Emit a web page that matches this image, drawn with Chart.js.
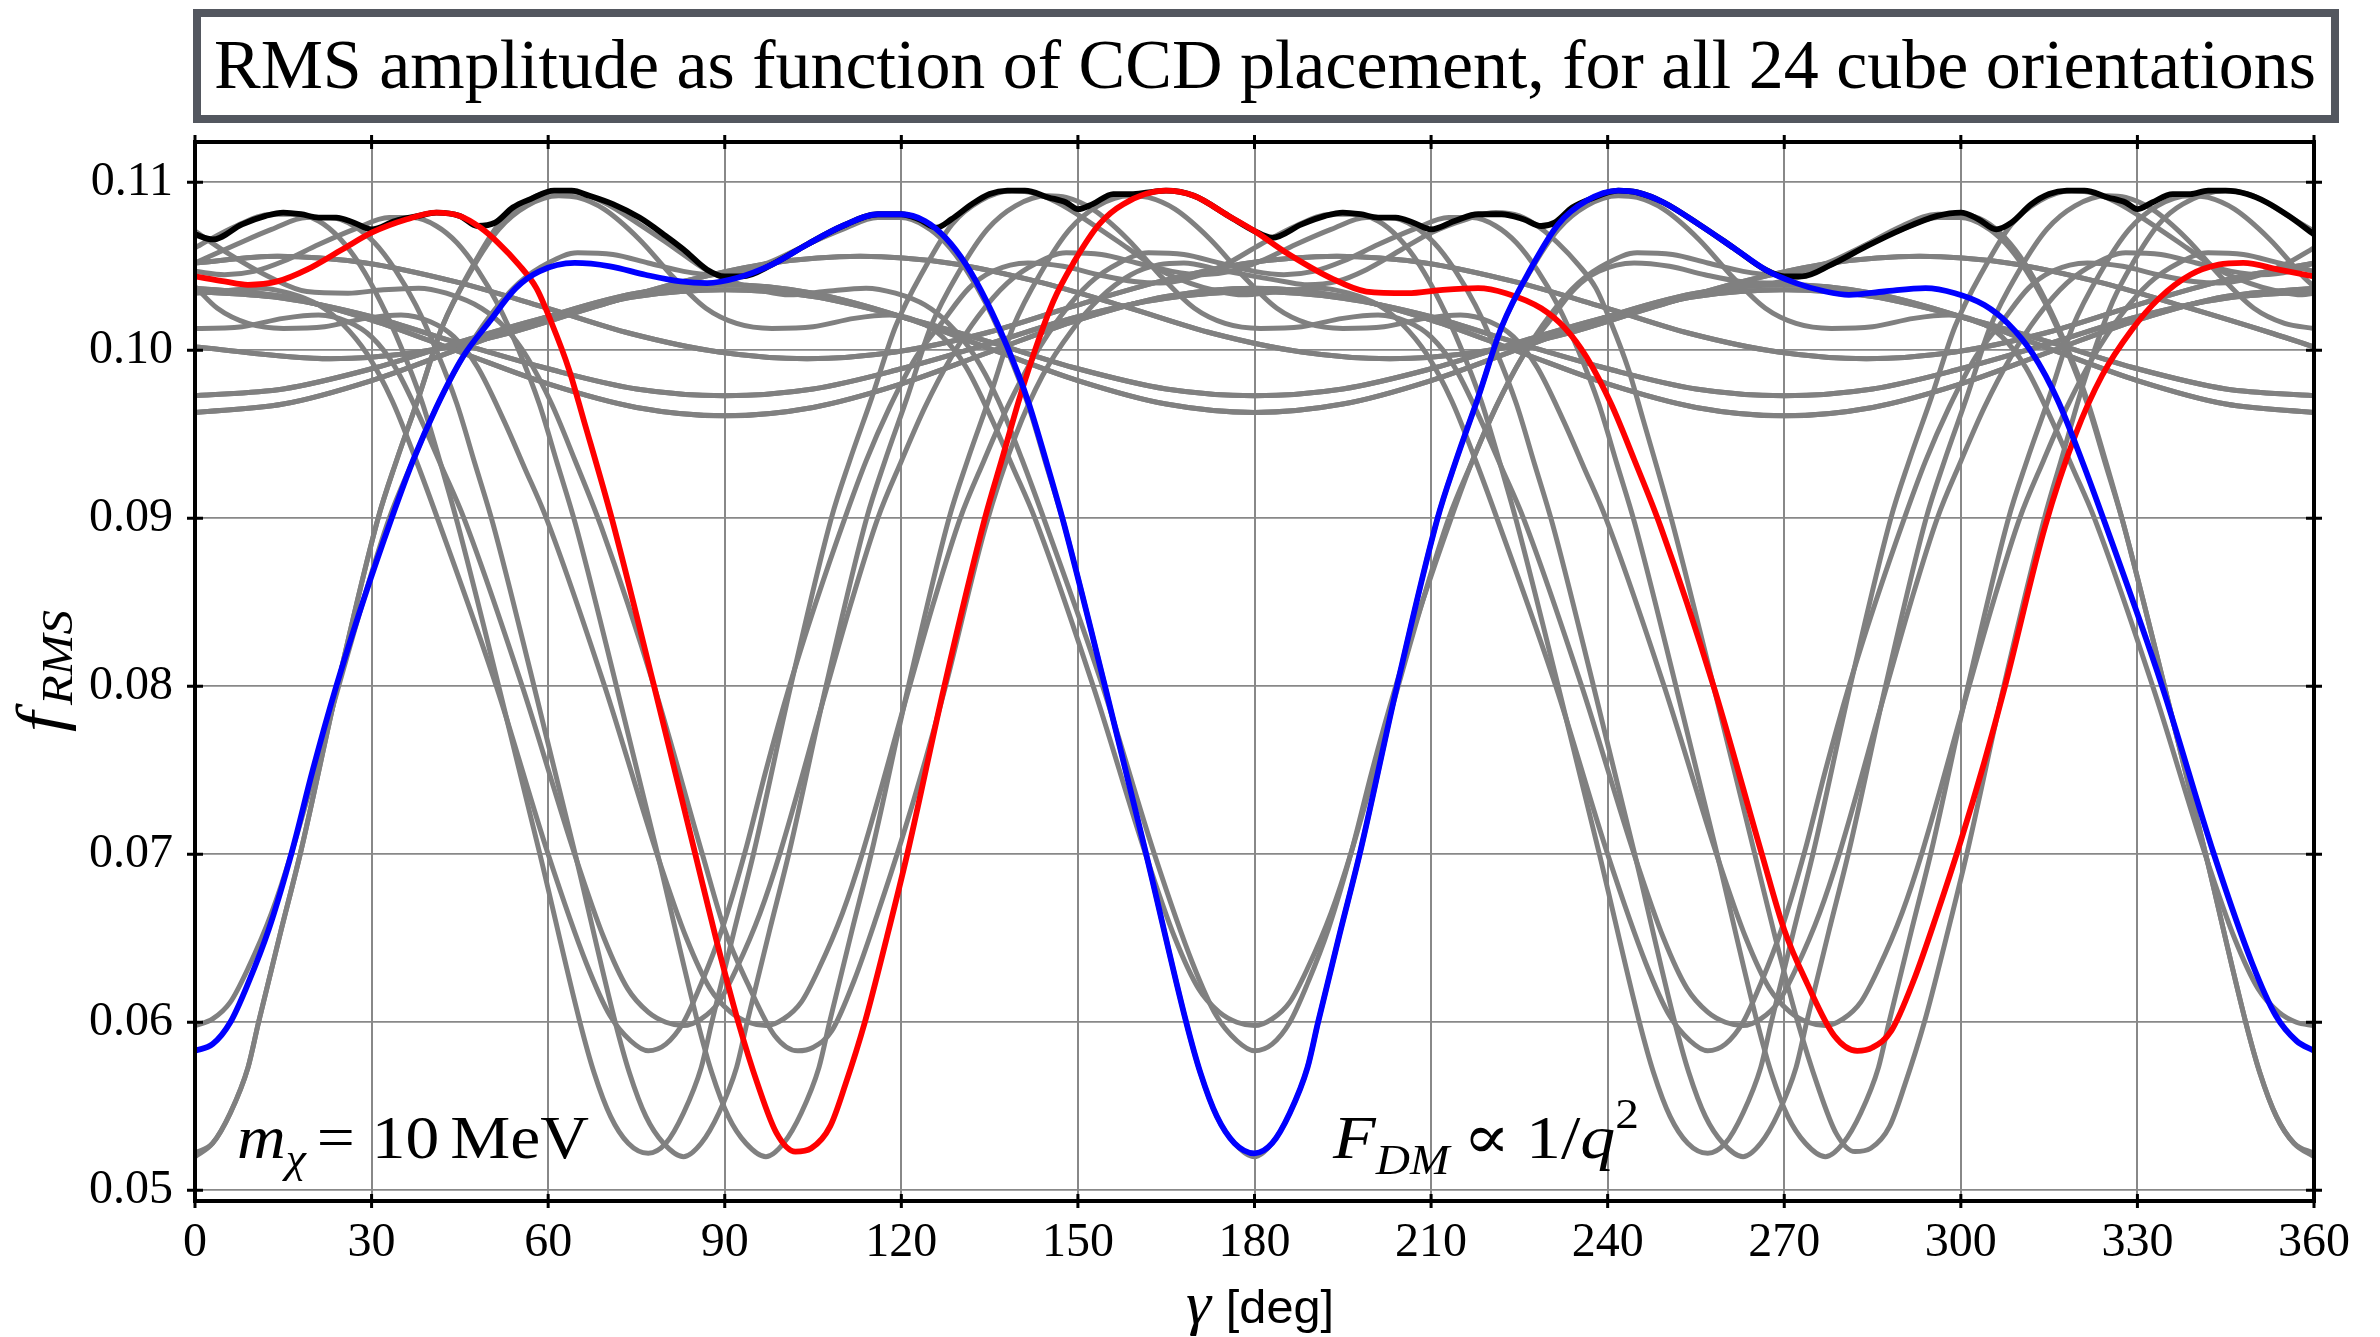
<!DOCTYPE html>
<html>
<head>
<meta charset="utf-8">
<script src="https://cdn.jsdelivr.net/npm/chart.js@4.4.1/dist/chart.umd.min.js"></script>
<style>
html, body { margin: 0; padding: 0; background: #fff; }
#myChart { display: block; }
</style>
</head>
<body>
<canvas id="myChart" width="2380" height="1337" style="width:2380px;height:1337px"></canvas>
<script>
// axis ticks
var gammaTicks = [0, 30, 60, 90, 120, 150, 180, 210, 240, 270, 300, 330, 360];
var fTicks = [0.05, 0.06, 0.07, 0.08, 0.09, 0.10, 0.11];
var yMin = 0.04936, yMax = 0.1124;

var titleText = "RMS amplitude as function of CCD placement, for all 24 cube orientations";

// [gamma (deg), f_RMS]
var curveBlue = [[0,.0583],[3,.0587],[6,.0600],[9,.0623],[12.5,.0655],[16.5,.0702],[20,.0750],[24,.0800],[28.5,.0850],[33.4,.0900],[37,.0934],[41,.0966],[45.5,.0996],[50,.1017],[54.5,.1037],[58.5,.1047],[64.5,.1052],[70.5,.1050],[76.5,.1045],[82.5,.1041],[87,.1040],[92,.1043],[98,.1051],[104,.1063],[110,.1074],[116,.1081],[120,.1081],[124,.1077],[127.5,.1067],[131,.1051],[134.5,.1029],[138,.1002],[141.5,.0970],[144.6,.0934],[147.6,.0897],[154.6,.0800],[161.6,.0700],[168.4,.0600],[170.8,.0570],[173.6,.0544],[176.6,.0528],[180,.0522],[183,.0528],[186,.0546],[189,.0573],[190.8,.0600],[194.5,.0653],[198,.0702],[204.2,.0800],[211.1,.0900],[214.2,.0934],[218,.0972],[222,.1014],[227,.1049],[231.6,.1075],[236.4,.1089],[241.8,.1095],[245,.1094],[249.5,.1088],[255.5,.1075],[261.4,.1061],[266.8,.1048],[272,.1040],[277,.1035],[281,.1033],[287,.1035],[294,.1037],[299,.1034],[304,.1027],[308,.1016],[312.2,.0998],[316.5,.0970],[320.5,.0935],[324.5,.0897],[334.2,.0800],[343,.0700],[349.5,.0635],[353.5,.0604],[357,.0589],[360,.0583]];

var curveRed = [[0,.1044],[5,.1041],[9,.1039],[14,.1041],[19,.1048],[25,.1060],[30,.1070],[36,.1078],[41,.1082],[45,.1080],[48.5,.1073],[51.5,.1064],[55,.1051],[58,.1037],[60.5,.1017],[63.5,.0989],[66,.0959],[70.8,.0900],[78,.0800],[85,.0700],[88.5,.0650],[92.3,.0600],[95.6,.0563],[98.8,.0534],[102,.0523],[104.7,.0525],[107.9,.0538],[110.5,.0563],[113.8,.0600],[117.5,.0650],[121,.0700],[127.3,.0800],[134.2,.0900],[137,.0934],[141,.0982],[145.8,.1029],[149.4,.1053],[153.6,.1075],[157.7,.1087],[164.9,.1095],[169.7,.1092],[175.6,.1080],[180,.1071],[185,.1059],[193,.1043],[199,.1035],[206,.1034],[212,.1036],[218,.1037],[222.7,.1034],[228.7,.1025],[232.8,.1013],[236.4,.0996],[240.6,.0968],[244.5,.0935],[249,.0895],[258,.0800],[266.2,.0700],[270,.0655],[273.9,.0623],[278.5,.0592],[282.4,.0583],[285,.0585],[288.2,.0595],[292,.0625],[296,.0665],[300,.0708],[304,.0755],[307.5,.0800],[314.3,.0895],[319.5,.0950],[324,.0985],[329,.1012],[333.7,.1031],[339,.1045],[343.8,.1051],[348,.1052],[354,.1048],[360,.1044]];

var curveBlack = [[0,.1069],[3,.1066],[8,.1075],[12,.1080],[15,.1082],[18,.1081],[21,.1079],[24,.1079],[27,.1076],[30,.1072],[34,.1077],[38,.1080],[41,.1082],[45,.1080],[48,.1074],[51,.1076],[54,.1085],[57,.1090],[61,.1095],[64,.1095],[67,.1092],[71,.1087],[75.5,.1079],[80,.1068],[83,.1060],[87,.1048],[90,.1044],[93,.1044],[98,.1051],[104,.1063],[110,.1074],[116,.1081],[120,.1081],[123,.1078],[126,.1073],[128.5,.1078],[132,.1087],[135,.1093],[138,.1095],[141,.1095],[145,.1091],[148,.1088],[150,.1084],[152.5,.1087],[156,.1093],[159,.1093],[162,.1094],[165,.1095],[169.7,.1092],[175.6,.1080],[180,.1071],[183,.1067],[188,.1075],[192,.1080],[195,.1082],[198,.1081],[201,.1079],[204,.1079],[207,.1076],[210,.1072],[214,.1077],[218,.1081],[222,.1081],[225.7,.1078],[228.7,.1074],[231,.1076],[234,.1085],[237,.1090],[241.8,.1095],[245,.1094],[249.5,.1088],[255.5,.1075],[261.4,.1061],[266.8,.1048],[270,.1044],[273,.1044],[278,.1051],[284,.1062],[290,.1072],[296,.1080],[300,.1082],[303,.1078],[306,.1072],[308.6,.1076],[312,.1087],[315,.1093],[318,.1095],[321,.1095],[325,.1091],[328,.1088],[330,.1084],[332.5,.1088],[336,.1093],[339,.1093],[342,.1095],[345,.1095],[348.6,.1093],[352,.1088],[355.7,.1080],[360,.1069]];

// deep grey curves
var grayG1 = [[0,.0522],[3,.0528],[6,.0546],[9,.0573],[10.8,.0600],[14.5,.0653],[18,.0702],[24.2,.0800],[31.1,.0900],[34.2,.0934],[38,.0972],[42,.1014],[47,.1049],[51.6,.1075],[56.4,.1089],[61.8,.1095],[65,.1094],[69.5,.1088],[75.5,.1075],[81.4,.1061],[86.8,.1048],[92,.1040],[97,.1035],[101,.1033],[107,.1035],[114,.1037],[119,.1034],[124,.1027],[128,.1016],[132.2,.0998],[136.5,.0970],[140.5,.0935],[144.5,.0897],[154.2,.0800],[163,.0700],[169.5,.0635],[173.5,.0604],[177,.0589],[180,.0583],[183,.0587],[186,.0600],[189,.0623],[192.5,.0655],[196.5,.0702],[200,.0750],[204,.0800],[208.5,.0850],[213.4,.0900],[217,.0934],[221,.0966],[225.5,.0996],[230,.1017],[234.5,.1037],[238.5,.1047],[244.5,.1052],[250.5,.1050],[256.5,.1045],[262.5,.1041],[267,.1040],[272,.1043],[278,.1051],[284,.1063],[290,.1074],[296,.1081],[300,.1081],[304,.1077],[307.5,.1067],[311,.1051],[314.5,.1029],[318,.1002],[321.5,.0970],[324.6,.0934],[327.6,.0897],[334.6,.0800],[341.6,.0700],[348.4,.0600],[350.8,.0570],[353.6,.0544],[356.6,.0528],[360,.0522]];

var grayA = [[0,.1061],[1,.1063],[7,.1074],[13,.1081],[17,.1081],[21,.1077],[24.5,.1067],[28,.1051],[31.5,.1029],[35,.1002],[38.5,.0970],[41.6,.0934],[44.6,.0897],[51.6,.0800],[58.6,.0700],[65.4,.0600],[67.8,.0570],[70.6,.0544],[73.6,.0528],[77,.0522],[80,.0528],[83,.0546],[86,.0573],[87.8,.0600],[91.5,.0653],[95,.0702],[101.2,.0800],[108.1,.0900],[111.2,.0934],[115,.0972],[119,.1014],[124,.1049],[128.6,.1075],[133.4,.1089],[138.8,.1095],[142,.1094],[146.5,.1088],[152.5,.1075],[158.4,.1061],[163.8,.1048],[169,.1040],[174,.1035],[178,.1033],[184,.1035],[191,.1037],[196,.1034],[201,.1027],[205,.1016],[209.2,.0998],[213.5,.0970],[217.5,.0935],[221.5,.0897],[231.2,.0800],[240,.0700],[246.5,.0635],[250.5,.0604],[254,.0589],[257,.0583],[260,.0587],[263,.0600],[266,.0623],[269.5,.0655],[273.5,.0702],[277,.0750],[281,.0800],[285.5,.0850],[290.4,.0900],[294,.0934],[298,.0966],[302.5,.0996],[307,.1017],[311.5,.1037],[315.5,.1047],[321.5,.1052],[327.5,.1050],[333.5,.1045],[339.5,.1041],[344,.1040],[349,.1043],[355,.1051],[360,.1061]];

var grayA2 = [[0,.1034],[4,.1035],[11,.1037],[16,.1034],[21,.1027],[25,.1016],[29.2,.0998],[33.5,.0970],[37.5,.0935],[41.5,.0897],[51.2,.0800],[60,.0700],[66.5,.0635],[70.5,.0604],[74,.0589],[77,.0583],[80,.0587],[83,.0600],[86,.0623],[89.5,.0655],[93.5,.0702],[97,.0750],[101,.0800],[105.5,.0850],[110.4,.0900],[114,.0934],[118,.0966],[122.5,.0996],[127,.1017],[131.5,.1037],[135.5,.1047],[141.5,.1052],[147.5,.1050],[153.5,.1045],[159.5,.1041],[164,.1040],[169,.1043],[175,.1051],[181,.1063],[187,.1074],[193,.1081],[197,.1081],[201,.1077],[204.5,.1067],[208,.1051],[211.5,.1029],[215,.1002],[218.5,.0970],[221.6,.0934],[224.6,.0897],[231.6,.0800],[238.6,.0700],[245.4,.0600],[247.8,.0570],[250.6,.0544],[253.6,.0528],[257,.0522],[260,.0528],[263,.0546],[266,.0573],[267.8,.0600],[271.5,.0653],[275,.0702],[281.2,.0800],[288.1,.0900],[291.2,.0934],[295,.0972],[299,.1014],[304,.1049],[308.6,.1075],[313.4,.1089],[318.8,.1095],[322,.1094],[326.5,.1088],[332.5,.1075],[338.4,.1061],[343.8,.1048],[349,.1040],[354,.1035],[358,.1033],[360,.1034]];

var grayRed2 = [[0,.1071],[5,.1059],[13,.1043],[19,.1035],[26,.1034],[32,.1036],[38,.1037],[42.7,.1034],[48.7,.1025],[52.8,.1013],[56.4,.0996],[60.6,.0968],[64.5,.0935],[69,.0895],[78,.0800],[86.2,.0700],[90,.0655],[93.9,.0623],[98.5,.0592],[102.4,.0583],[105,.0585],[108.2,.0595],[112,.0625],[116,.0665],[120,.0708],[124,.0755],[127.5,.0800],[134.3,.0895],[139.5,.0950],[144,.0985],[149,.1012],[153.7,.1031],[159,.1045],[163.8,.1051],[168,.1052],[174,.1048],[180,.1044],[185,.1041],[189,.1039],[194,.1041],[199,.1048],[205,.1060],[210,.1070],[216,.1078],[221,.1082],[225,.1080],[228.5,.1073],[231.5,.1064],[235,.1051],[238,.1037],[240.5,.1017],[243.5,.0989],[246,.0959],[250.8,.0900],[258,.0800],[265,.0700],[268.5,.0650],[272.3,.0600],[275.6,.0563],[278.8,.0534],[282,.0523],[284.7,.0525],[287.9,.0538],[290.5,.0563],[293.8,.0600],[297.5,.0650],[301,.0700],[307.3,.0800],[314.2,.0900],[317,.0934],[321,.0982],[325.8,.1029],[329.4,.1053],[333.6,.1075],[337.7,.1087],[344.9,.1095],[349.7,.1092],[355.6,.1080],[360,.1071]];

var grayG3 = [[0,.0598],[3,.0602],[6,.0612],[9,.0632],[13,.0665],[16.5,.0702],[24,.0795],[28.5,.0850],[33,.0900],[37,.0934],[41,.0966],[45.5,.0996],[50,.1020],[55,.1040],[60,.1052],[65,.1058],[71,.1057],[77,.1052],[83,.1047],[88,.1045],[93,.1047],[98,.1053],[104,.1063],[110,.1072],[116,.1079],[120,.1079],[124,.1074],[127.5,.1064],[131,.1048],[134.5,.1027],[138,.1000],[141.5,.0968],[144.6,.0932],[147.6,.0897],[154.6,.0800],[161.6,.0700],[168.4,.0600],[170.8,.0570],[173.6,.0544],[176.6,.0528],[180,.0520],[183,.0528],[186,.0546],[189,.0573],[190.8,.0600],[194.5,.0653],[198,.0702],[204.2,.0800],[211.1,.0900],[214.2,.0934],[218,.0972],[222,.1014],[227,.1048],[231.6,.1072],[236.4,.1086],[241.8,.1092],[245,.1091],[249.5,.1084],[255.5,.1066],[261.4,.1043],[266.8,.1025],[272,.1016],[278,.1013],[285,.1014],[292,.1019],[298,.1021],[303,.1017],[307,.1008],[311,.0990],[315.5,.0958],[319,.0930],[322.7,.0900],[332.6,.0800],[341.5,.0700],[346.5,.0650],[350.5,.0620],[354,.0606],[357,.0600],[360,.0598]];

var grayG2 = [[0,.0520],[3,.0528],[6,.0546],[9,.0573],[10.8,.0600],[14.5,.0653],[18,.0702],[24.2,.0800],[31.1,.0900],[34.2,.0934],[38,.0972],[42,.1014],[47,.1048],[51.6,.1072],[56.4,.1086],[61.8,.1092],[65,.1091],[69.5,.1084],[75.5,.1066],[81.4,.1043],[86.8,.1025],[92,.1016],[98,.1013],[105,.1014],[112,.1019],[118,.1021],[123,.1017],[127,.1008],[131,.0990],[135.5,.0958],[139,.0930],[142.7,.0900],[152.6,.0800],[161.5,.0700],[166.5,.0650],[170.5,.0620],[174,.0606],[177,.0600],[180,.0598],[183,.0602],[186,.0612],[189,.0632],[193,.0665],[196.5,.0702],[204,.0795],[208.5,.0850],[213,.0900],[217,.0934],[221,.0966],[225.5,.0996],[230,.1020],[235,.1040],[240,.1052],[245,.1058],[251,.1057],[257,.1052],[263,.1047],[268,.1045],[273,.1047],[278,.1053],[284,.1063],[290,.1072],[296,.1079],[300,.1079],[304,.1074],[307.5,.1064],[311,.1048],[314.5,.1027],[318,.1000],[321.5,.0968],[324.6,.0932],[327.6,.0897],[334.6,.0800],[341.6,.0700],[348.4,.0600],[350.8,.0570],[353.6,.0544],[356.6,.0528],[360,.0520]];

var grayB = [[0,.1052],[7,.1063],[13,.1072],[19,.1079],[23,.1079],[27,.1074],[30.5,.1064],[34,.1048],[37.5,.1027],[41,.1000],[44.5,.0968],[47.6,.0932],[50.6,.0897],[57.6,.0800],[64.6,.0700],[71.4,.0600],[73.8,.0570],[76.6,.0544],[79.6,.0528],[83,.0520],[86,.0528],[89,.0546],[92,.0573],[93.8,.0600],[97.5,.0653],[101,.0702],[107.2,.0800],[114.1,.0900],[117.2,.0934],[121,.0972],[125,.1014],[130,.1048],[134.6,.1072],[139.4,.1086],[144.8,.1092],[148,.1091],[152.5,.1084],[158.5,.1066],[164.4,.1043],[169.8,.1025],[175,.1016],[181,.1013],[188,.1014],[195,.1019],[201,.1021],[206,.1017],[210,.1008],[214,.0990],[218.5,.0958],[222,.0930],[225.7,.0900],[235.6,.0800],[244.5,.0700],[249.5,.0650],[253.5,.0620],[257,.0606],[260,.0600],[263,.0598],[266,.0602],[269,.0612],[272,.0632],[276,.0665],[279.5,.0702],[287,.0795],[291.5,.0850],[296,.0900],[300,.0934],[304,.0966],[308.5,.0996],[313,.1020],[318,.1040],[323,.1052],[328,.1058],[334,.1057],[340,.1052],[346,.1047],[351,.1045],[356,.1047],[360,.1052]];

var grayB2 = [[0,.1013],[1,.1013],[8,.1014],[15,.1019],[21,.1021],[26,.1017],[30,.1008],[34,.0990],[38.5,.0958],[42,.0930],[45.7,.0900],[55.6,.0800],[64.5,.0700],[69.5,.0650],[73.5,.0620],[77,.0606],[80,.0600],[83,.0598],[86,.0602],[89,.0612],[92,.0632],[96,.0665],[99.5,.0702],[107,.0795],[111.5,.0850],[116,.0900],[120,.0934],[124,.0966],[128.5,.0996],[133,.1020],[138,.1040],[143,.1052],[148,.1058],[154,.1057],[160,.1052],[166,.1047],[171,.1045],[176,.1047],[181,.1053],[187,.1063],[193,.1072],[199,.1079],[203,.1079],[207,.1074],[210.5,.1064],[214,.1048],[217.5,.1027],[221,.1000],[224.5,.0968],[227.6,.0932],[230.6,.0897],[237.6,.0800],[244.6,.0700],[251.4,.0600],[253.8,.0570],[256.6,.0544],[259.6,.0528],[263,.0520],[266,.0528],[269,.0546],[272,.0573],[273.8,.0600],[277.5,.0653],[281,.0702],[287.2,.0800],[294.1,.0900],[297.2,.0934],[301,.0972],[305,.1014],[310,.1048],[314.6,.1072],[319.4,.1086],[324.8,.1092],[328,.1091],[332.5,.1084],[338.5,.1066],[344.4,.1043],[349.8,.1025],[355,.1016],[360,.1013]];

var grayC = [[0,.1047],[5,.1045],[10,.1047],[15,.1053],[21,.1063],[27,.1072],[33,.1079],[37,.1079],[41,.1074],[44.5,.1064],[48,.1048],[51.5,.1027],[55,.1000],[58.5,.0968],[61.6,.0932],[64.6,.0897],[71.6,.0800],[78.6,.0700],[85.4,.0600],[87.8,.0570],[90.6,.0544],[93.6,.0528],[97,.0520],[100,.0528],[103,.0546],[106,.0573],[107.8,.0600],[111.5,.0653],[115,.0702],[121.2,.0800],[128.1,.0900],[131.2,.0934],[135,.0972],[139,.1014],[144,.1048],[148.6,.1072],[153.4,.1086],[158.8,.1092],[162,.1091],[166.5,.1084],[172.5,.1066],[178.4,.1043],[183.8,.1025],[189,.1016],[195,.1013],[202,.1014],[209,.1019],[215,.1021],[220,.1017],[224,.1008],[228,.0990],[232.5,.0958],[236,.0930],[239.7,.0900],[249.6,.0800],[258.5,.0700],[263.5,.0650],[267.5,.0620],[271,.0606],[274,.0600],[277,.0598],[280,.0602],[283,.0612],[286,.0632],[290,.0665],[293.5,.0702],[301,.0795],[305.5,.0850],[310,.0900],[314,.0934],[318,.0966],[322.5,.0996],[327,.1020],[332,.1040],[337,.1052],[342,.1058],[348,.1057],[354,.1052],[360,.1047]];

var grayC2 = [[0,.1038],[3.8,.1025],[9,.1016],[15,.1013],[22,.1014],[29,.1019],[35,.1021],[40,.1017],[44,.1008],[48,.0990],[52.5,.0958],[56,.0930],[59.7,.0900],[69.6,.0800],[78.5,.0700],[83.5,.0650],[87.5,.0620],[91,.0606],[94,.0600],[97,.0598],[100,.0602],[103,.0612],[106,.0632],[110,.0665],[113.5,.0702],[121,.0795],[125.5,.0850],[130,.0900],[134,.0934],[138,.0966],[142.5,.0996],[147,.1020],[152,.1040],[157,.1052],[162,.1058],[168,.1057],[174,.1052],[180,.1047],[185,.1045],[190,.1047],[195,.1053],[201,.1063],[207,.1072],[213,.1079],[217,.1079],[221,.1074],[224.5,.1064],[228,.1048],[231.5,.1027],[235,.1000],[238.5,.0968],[241.6,.0932],[244.6,.0897],[251.6,.0800],[258.6,.0700],[265.4,.0600],[267.8,.0570],[270.6,.0544],[273.6,.0528],[277,.0520],[280,.0528],[283,.0546],[286,.0573],[287.8,.0600],[291.5,.0653],[295,.0702],[301.2,.0800],[308.1,.0900],[311.2,.0934],[315,.0972],[319,.1014],[324,.1048],[328.6,.1072],[333.4,.1086],[338.8,.1092],[342,.1091],[346.5,.1084],[352.5,.1066],[358.4,.1043],[360,.1038]];

// shallow grey curves
var graySA = [[0,.1037],[15,.1032],[30,.1018],[45,.0999],[60,.0980],[75,.0966],[90,.0961],[105,.0966],[120,.0980],[135,.0999],[150,.1018],[165,.1032],[180,.1037],[195,.1032],[210,.1018],[225,.0999],[240,.0980],[255,.0966],[270,.0961],[285,.0966],[300,.0980],[315,.0999],[330,.1018],[345,.1032],[360,.1037]];
var graySB = [[0,.1035],[15,.1031],[30,.1020],[45,.1004],[60,.0989],[75,.0977],[90,.0973],[105,.0977],[120,.0989],[135,.1004],[150,.1020],[165,.1031],[180,.1035],[195,.1031],[210,.1020],[225,.1004],[240,.0989],[255,.0977],[270,.0973],[285,.0977],[300,.0989],[315,.1004],[330,.1020],[345,.1031],[360,.1035]];
var graySC = [[0,.0963],[15,.0968],[30,.0982],[45,.1001],[60,.1020],[75,.1034],[90,.1039],[105,.1034],[120,.1020],[135,.1001],[150,.0982],[165,.0968],[180,.0963],[195,.0968],[210,.0982],[225,.1001],[240,.1020],[255,.1034],[270,.1039],[285,.1034],[300,.1020],[315,.1001],[330,.0982],[345,.0968],[360,.0963]];
var graySD = [[0,.0973],[15,.0977],[30,.0989],[45,.1005],[60,.1020],[75,.1032],[90,.1036],[105,.1032],[120,.1020],[135,.1005],[150,.0989],[165,.0977],[180,.0973],[195,.0977],[210,.0989],[225,.1005],[240,.1020],[255,.1032],[270,.1036],[285,.1032],[300,.1020],[315,.1005],[330,.0989],[345,.0977],[360,.0973]];
var graySE = [[0,.1052],[14,.1056],[29,.1052],[44,.1041],[59,.1026],[74,.1010],[89,.0999],[104,.0995],[119,.0999],[134,.1010],[149,.1026],[164,.1041],[179,.1052],[194,.1056],[209,.1052],[224,.1041],[239,.1026],[254,.1010],[269,.0999],[284,.0995],[299,.0999],[314,.1010],[329,.1026],[344,.1041],[360,.1052]];
var graySF = [[0,.1002],[23,.0995],[38,.0999],[53,.1010],[68,.1026],[83,.1041],[98,.1052],[113,.1056],[128,.1052],[143,.1041],[158,.1026],[173,.1010],[188,.0999],[203,.0995],[218,.0999],[233,.1010],[248,.1026],[263,.1041],[278,.1052],[293,.1056],[308,.1052],[323,.1041],[338,.1026],[353,.1010],[360,.1002]];

var grayCurves = [grayG1, grayA, grayA2, grayRed2, grayG3, grayG2, grayB, grayB2, grayC, grayC2,
                  graySA, graySA, graySB, graySB, graySC, graySC, graySD, graySD, graySE, graySE, graySF, graySF];

var serif = "'Liberation Serif', 'DejaVu Serif', serif";

function toXY(pts) {
	return pts.map(function(p){ return {x: p[0], y: p[1]}; });
}

// draw a row of text pieces, optionally squeezed to a given width
function drawRuns(ctx, runs, x, y, width)
{
	var total = 0;
	runs.forEach(function(r){
		ctx.font = r.font;
		r.w = ctx.measureText(r.text).width + (r.kern || 0);
		total += r.w;
	});
	var sx = width ? width / total : 1;
	ctx.save();
	ctx.translate(x, y);
	ctx.scale(sx, 1);
	var cx = 0;
	runs.forEach(function(r){
		ctx.font = r.font;
		ctx.fillText(r.text, cx + (r.dx || 0), r.dy || 0);
		cx += r.w;
	});
	ctx.restore();
}

var framePlugin = {
	id: 'frame',
	afterDraw: function(chart) {
		var ctx = chart.ctx;
		var a = chart.chartArea;
		var xs = chart.scales.x, ys = chart.scales.y;
		ctx.save();
		// spines
		ctx.strokeStyle = '#000';
		ctx.lineWidth = 4;
		ctx.strokeRect(a.left, a.top, a.right - a.left, a.bottom - a.top);
		// in-out ticks on all four sides
		ctx.lineWidth = 3;
		ctx.beginPath();
		gammaTicks.forEach(function(v){
			var px = xs.getPixelForValue(v);
			ctx.moveTo(px, a.bottom - 7); ctx.lineTo(px, a.bottom + 7);
			ctx.moveTo(px, a.top - 7); ctx.lineTo(px, a.top + 7);
		});
		fTicks.forEach(function(v){
			var py = ys.getPixelForValue(v);
			ctx.moveTo(a.left - 8, py); ctx.lineTo(a.left + 8, py);
			ctx.moveTo(a.right - 8, py); ctx.lineTo(a.right + 8, py);
		});
		ctx.stroke();

		// title box
		ctx.fillStyle = '#fff';
		ctx.fillRect(197, 13, 2138, 106);
		ctx.strokeStyle = '#53575f';
		ctx.lineWidth = 8;
		ctx.strokeRect(197, 13, 2138, 106);
		ctx.fillStyle = '#000';
		ctx.textBaseline = 'alphabetic';
		ctx.textAlign = 'left';
		drawRuns(ctx, [{text: titleText, font: '70px ' + serif}], 214, 88, 2102);

		// axis titles
		drawRuns(ctx, [
			{text: '\u03B3', font: 'italic 60px ' + serif, kern: 14},
			{text: '[deg]', font: "46px 'Liberation Sans', 'DejaVu Sans', sans-serif"}
		], 1186, 1323, 148);

		ctx.save();
		ctx.translate(62, 732);
		ctx.rotate(-Math.PI / 2);
		drawRuns(ctx, [
			{text: 'f', font: 'italic 66px ' + serif, kern: 6},
			{text: 'RMS', font: 'italic 44px ' + serif, dy: 10}
		], 0, 0, 122);
		ctx.restore();

		// annotations
		drawRuns(ctx, [
			{text: 'm', font: 'italic 62px ' + serif},
			{text: '\u03C7', font: 'italic 42px ' + serif, dy: 14, kern: 10},
			{text: '= 10', font: '62px ' + serif, kern: 10},
			{text: 'MeV', font: '62px ' + serif}
		], 237, 1158, 352);
		drawRuns(ctx, [
			{text: 'F', font: 'italic 62px ' + serif},
			{text: 'DM', font: 'italic 42px ' + serif, dy: 16, kern: 12},
			{text: '\u221D', font: '62px ' + serif, kern: 14},
			{text: '1/', font: '62px ' + serif},
			{text: 'q', font: 'italic 62px ' + serif},
			{text: '2', font: '42px ' + serif, dy: -30}
		], 1333, 1158, 306);
		ctx.restore();
	}
};

var datasets = [];
datasets.push({data: toXY(curveBlue), borderColor: '#0000ff', borderWidth: 5.8, order: 0});
datasets.push({data: toXY(curveRed), borderColor: '#ff0000', borderWidth: 5.8, order: 1});
datasets.push({data: toXY(curveBlack), borderColor: '#000000', borderWidth: 5.8, order: 2});
grayCurves.forEach(function(c){
	datasets.push({data: toXY(c), borderColor: '#808080', borderWidth: 5, order: 3});
});

var ctx = document.getElementById('myChart').getContext('2d');
var chart = new Chart(ctx, {
	type: 'line',
	data: { datasets: datasets },
	options: {
		responsive: false,
		animation: false,
		devicePixelRatio: 1,
		layout: { padding: { top: 142, right: 66, bottom: 0, left: 0 } },
		plugins: { legend: { display: false }, tooltip: { enabled: false }, title: { display: false } },
		elements: {
			point: { radius: 0 },
			line: { cubicInterpolationMode: 'monotone', fill: false }
		},
		scales: {
			x: {
				type: 'linear', min: 0, max: 360,
				afterBuildTicks: function(ax){ ax.ticks = gammaTicks.map(function(v){ return {value: v}; }); },
				afterFit: function(ax){ ax.height = 136; },
				ticks: { color: '#000', font: { family: serif, size: 48 }, padding: 14, maxRotation: 0, autoSkip: false,
					callback: function(v){ return String(v); } },
				grid: { color: '#888888', lineWidth: 2, drawTicks: false },
				border: { display: false }
			},
			y: {
				type: 'linear', min: yMin, max: yMax,
				afterBuildTicks: function(ax){ ax.ticks = fTicks.map(function(v){ return {value: v}; }); },
				afterFit: function(ax){ ax.width = 195; },
				ticks: { color: '#000', font: { family: serif, size: 48 }, padding: 22, autoSkip: false,
					callback: function(v){ return v.toFixed(2); } },
				grid: { color: '#888888', lineWidth: 1.8, drawTicks: false },
				border: { display: false }
			}
		}
	},
	plugins: [framePlugin]
});
</script>
</body>
</html>
